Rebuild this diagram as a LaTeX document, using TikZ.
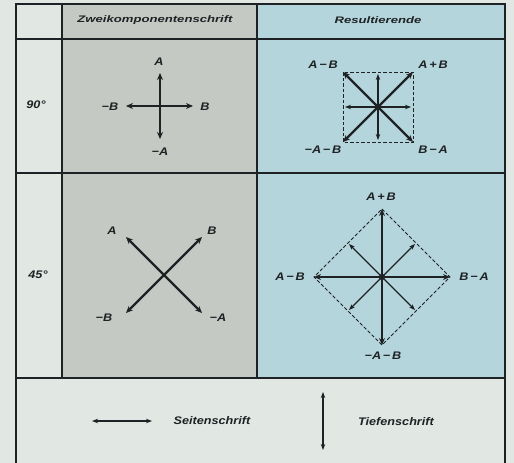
\documentclass[tikz,border=0pt]{standalone}
\usepackage{fontspec}
\newfontfamily\tabfont[FakeStretch=1.15]{Liberation Sans}
\usetikzlibrary{arrows.meta}
\definecolor{paper}{RGB}{225,231,227}
\definecolor{grau}{RGB}{196,201,196}
\definecolor{blau}{RGB}{180,213,219}
\definecolor{ink}{RGB}{30,34,36}
\begin{document}
\begin{tikzpicture}[x=1pt,y=-1pt,
    lbl/.style={font=\tabfont\bfseries\itshape\fontsize{11}{13}\selectfont,text=ink,inner sep=0pt},
    kopf/.style={lbl,font=\tabfont\bfseries\itshape\fontsize{9.5}{12}\selectfont,xscale=1.2},
    rule/.style={ink,line width=1.6pt},
    vec/.style={ink,line width=2.2pt,-{Stealth[length=7pt,width=6pt]}},
    thinvec/.style={ink,line width=1.1pt,-{Stealth[length=6pt,width=4.5pt]}},
    guide/.style={ink,line width=1pt,dash pattern=on 3.5pt off 2pt},
    both/.style={ink,line width=1.5pt,{Stealth[length=6pt,width=4.5pt]}-{Stealth[length=6pt,width=4.5pt]}}]
        \useasboundingbox (0,0) rectangle (514,463);
        \fill[paper] (0,0) rectangle (514,463);
        \fill[grau] (62,4) rectangle (257,378);
        \fill[blau] (257,4) rectangle (505,378);
        \draw[rule] (16,463) -- (16,4) -- (505,4) -- (505,463);
        \draw[rule] (16,39) -- (505,39);
        \draw[rule] (16,173) -- (505,173);
        \draw[rule] (16,378) -- (505,378);
        \draw[rule] (62,4) -- (62,378);
        \draw[rule] (257,4) -- (257,378);
        \node[kopf] (kopfz) at (155,20) {Zweikomponentenschrift};
        \node[kopf] (kopfr) at (378,20) {Resultierende};
        \node[lbl] (w90) at (36,105) {90°};
        \node[lbl] (w45) at (38,275) {45°};
        % 90 Grad, Komponenten
        \coordinate (m1) at (160,106);
        \coordinate (m1a) at (160,73);
        \coordinate (m1na) at (160,139);
        \coordinate (m1b) at (193,106);
        \coordinate (m1nb) at (126,106);
        \foreach \e in {m1a,m1na,m1b,m1nb} \draw[vec] (m1) -- (\e);
        \node[lbl] (m1la) at (159,62) {A};
        \node[lbl] (m1lna) at (160,152) {−A};
        \node[lbl] (m1lb) at (205,107) {B};
        \node[lbl] (m1lnb) at (110,107) {−B};
        % 90 Grad, Resultierende
        \coordinate (r1) at (378,107);
        \coordinate (r1ab) at (413,72);
        \coordinate (r1amb) at (343,72);
        \coordinate (r1nanb) at (343,142);
        \coordinate (r1bma) at (413,142);
        \coordinate (r1a) at (378,74);
        \coordinate (r1na) at (378,140);
        \coordinate (r1b) at (411,107);
        \coordinate (r1nb) at (345,107);
        \draw[guide] (r1amb) rectangle (r1bma);
        \foreach \e in {r1a,r1na,r1b,r1nb} \draw[thinvec] (r1) -- (\e);
        \foreach \e in {r1ab,r1amb,r1nanb,r1bma} \draw[vec] (r1) -- (\e);
        \fill[ink] (r1) circle (3.2);
        \node[lbl] (r1lamb) at (323,65) {A\,−\,B};
        \node[lbl] (r1lab) at (433,65) {A\,+\,B};
        \node[lbl] (r1lnanb) at (323,150) {−A\,−\,B};
        \node[lbl] (r1lbma) at (433,150) {B\,−\,A};
        % 45 Grad, Komponenten
        \coordinate (m2) at (164,275);
        \coordinate (m2a) at (126,237);
        \coordinate (m2b) at (202,237);
        \coordinate (m2nb) at (126,313);
        \coordinate (m2na) at (202,313);
        \foreach \e in {m2a,m2na,m2b,m2nb} \draw[vec] (m2) -- (\e);
        \node[lbl] (m2la) at (112,231) {A};
        \node[lbl] (m2lb) at (212,231) {B};
        \node[lbl] (m2lnb) at (104,318) {−B};
        \node[lbl] (m2lna) at (218,318) {−A};
        % 45 Grad, Resultierende
        \coordinate (r2) at (382,277);
        \coordinate (r2ab) at (382,209);
        \coordinate (r2nanb) at (382,345);
        \coordinate (r2amb) at (314,277);
        \coordinate (r2bma) at (450,277);
        \coordinate (r2a) at (349,244);
        \coordinate (r2b) at (415,244);
        \coordinate (r2nb) at (349,310);
        \coordinate (r2na) at (415,310);
        \draw[guide] (r2ab) -- (r2bma) -- (r2nanb) -- (r2amb) -- cycle;
        \foreach \e in {r2a,r2na,r2b,r2nb} \draw[thinvec] (r2) -- (\e);
        \foreach \e in {r2ab,r2amb,r2nanb,r2bma} \draw[vec] (r2) -- (\e);
        \fill[ink] (r2) circle (3.2);
        \node[lbl] (r2lab) at (381,197) {A\,+\,B};
        \node[lbl] (r2lnanb) at (383,356) {−A\,−\,B};
        \node[lbl] (r2lamb) at (290,277) {A\,−\,B};
        \node[lbl] (r2lbma) at (474,277) {B\,−\,A};
        % Legende
        \coordinate (s1) at (92,421);
        \coordinate (s2) at (152,421);
        \coordinate (t1) at (323,392);
        \coordinate (t2) at (323,450);
        \draw[both] (s1) -- (s2);
        \draw[both] (t1) -- (t2);
        \node[lbl] (seite) at (212,421) {Seitenschrift};
        \node[lbl] (tiefe) at (396,422) {Tiefenschrift};
\end{tikzpicture}
\end{document}
